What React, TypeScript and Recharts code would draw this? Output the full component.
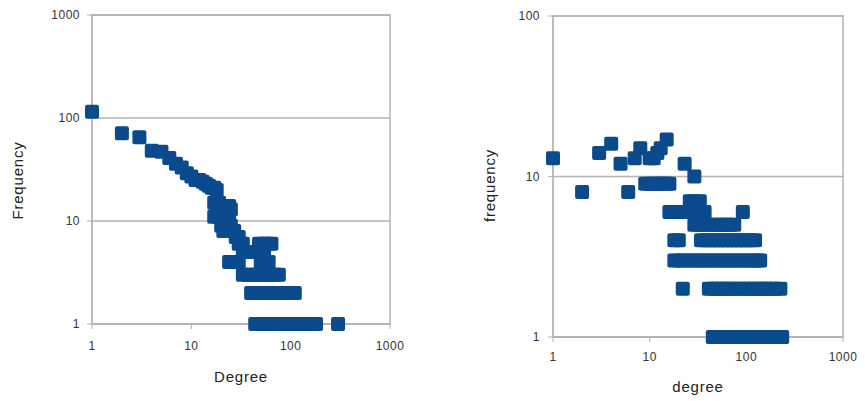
import { ScatterChart, Scatter, XAxis, YAxis, CartesianGrid, ReferenceArea } from 'recharts';

// degree distribution, left panel: [degree, frequency]
const leftPoints: [number, number][] = [
  [1, 115], [2, 71], [3, 65], [4, 48], [5, 47], [6, 41], [7, 36], [8, 33], [9, 29], [10, 27],
  [11, 25], [12, 25], [13, 24], [14, 23], [15, 22], [16, 21], [17, 21], [18, 20],
  [17, 15], [19, 15], [18, 13], [17, 11], [19, 11], [21, 12], [22, 14], [24, 14], [25, 13],
  [20, 9], [22, 9], [25, 9], [21, 8], [23, 8], [27, 8], [24, 10], [28, 7], [30, 7],
  [30, 6], [33, 6], [48, 6], [53, 6], [58, 6], [64, 6],
  [33, 5], [36, 5], [40, 5], [44, 5], [48, 5], [54, 5],
  [24, 4], [27, 4], [30, 4], [50, 4], [55, 4], [60, 4],
];
const leftThrees = [33, 37, 41, 46, 51, 57, 63, 70, 76];
const leftTwos = [40, 44, 48, 53, 58, 64, 70, 77, 85, 93, 102, 110];
const leftOnes = [44, 48, 52, 57, 62, 68, 74, 81, 88, 96, 105, 115, 125, 137, 150, 164, 180, 300];

// right panel: [degree, frequency]
const rightPoints: [number, number][] = [
  [1, 13], [2, 8], [3, 14], [4, 16], [5, 12], [6, 8], [7, 13], [8, 15],
  [10, 13], [11, 13], [12, 14], [13, 15], [15, 17], [23, 12], [29, 10],
  [9, 9], [10, 9], [11, 9], [12, 9], [13, 9], [14, 9], [15, 9], [16, 9],
  [26, 7], [29, 7], [33, 7],
  [16, 6], [18, 6], [20, 6], [22, 6], [25, 6], [28, 6], [32, 6], [37, 6], [92, 6],
  [29, 5], [32, 5], [36, 5], [40, 5], [45, 5], [50, 5], [56, 5], [62, 5], [68, 5], [75, 5],
  [18, 4], [20, 4], [22, 2],
];
const rightFours = [34, 38, 42, 47, 52, 58, 64, 71, 79, 88, 98, 110, 123];
const rightThrees = [18, 20, 22, 25, 28, 31, 35, 39, 44, 49, 55, 61, 68, 76, 85, 95, 106, 118, 130, 139];
const rightTwos = [41, 45, 50, 55, 61, 68, 76, 85, 95, 106, 118, 131, 146, 162, 180, 200, 225];
const rightOnes = [45, 50, 55, 61, 68, 76, 85, 95, 106, 118, 131, 146, 162, 180, 200, 218, 235];

const xTicks = [1, 10, 100, 1000];
const leftYTicks = [1, 10, 100, 1000];
const rightYTicks = [1, 10, 100];

const toRows = (pts: [number, number][]) => pts.map(([x, y]) => ({ x, y }));
const band = (degrees: number[], f: number) => degrees.map((x) => ({ x, y: f }));

const leftData = [
  ...toRows(leftPoints),
  ...band(leftThrees, 3),
  ...band(leftTwos, 2),
  ...band(leftOnes, 1),
];
const rightData = [
  ...toRows(rightPoints),
  ...band(rightFours, 4),
  ...band(rightThrees, 3),
  ...band(rightTwos, 2),
  ...band(rightOnes, 1),
];

const BLUE = '#0a4a8d';
const GRID = '#b3b3b3';
const FONT = '"Liberation Sans", Arial, sans-serif';
const tickStyle = { fontSize: 12, fill: '#333', fontFamily: FONT, letterSpacing: 0.5 };
const titleStyle = { fontSize: 15, fill: '#222', fontFamily: FONT, letterSpacing: 0.8 };

const Square = (props: any) => {
  const { cx, cy } = props;
  if (cx == null || cy == null) return null;
  return <rect x={cx - 7} y={cy - 7} width={14} height={14} rx={2} fill={BLUE} />;
};

export default function App() {
  return (
    <div style={{ position: 'absolute', left: 0, top: 0, width: 865, height: 401, background: '#fff' }}>
      <div style={{ position: 'absolute', left: 0, top: 0 }}>
        <ScatterChart width={430} height={401} margin={{ top: 15, right: 40, bottom: 15, left: 32 }}>
          <CartesianGrid vertical={false} stroke={GRID} strokeWidth={1.5} />
          <XAxis
            type="number"
            dataKey="x"
            scale="log"
            domain={[1, 1000]}
            ticks={xTicks}
            height={62}
            tickSize={5}
            tickMargin={12}
            stroke={GRID}
            tick={tickStyle}
            label={{ value: 'Degree', position: 'insideBottom', offset: 4, style: titleStyle }}
          />
          <YAxis
            type="number"
            dataKey="y"
            scale="log"
            domain={[1, 1000]}
            ticks={leftYTicks}
            width={60}
            tickSize={5}
            tickMargin={7}
            stroke={GRID}
            tick={tickStyle}
            label={{ value: 'Frequency', angle: -90, position: 'center', dx: -44, dy: 11, style: titleStyle }}
          />
          <ReferenceArea x1={1} x2={1000} y1={1} y2={1000} fill="none" stroke={GRID} strokeWidth={1.5} />
          <Scatter data={leftData} shape={Square} isAnimationActive={false} />
        </ScatterChart>
      </div>
      <div style={{ position: 'absolute', left: 430, top: 0 }}>
        <ScatterChart width={435} height={401} margin={{ top: 16, right: 22, bottom: 8, left: 53 }}>
          <CartesianGrid vertical={false} stroke={GRID} strokeWidth={1.5} />
          <XAxis
            type="number"
            dataKey="x"
            scale="log"
            domain={[1, 1000]}
            ticks={xTicks}
            height={56}
            tickSize={5}
            tickMargin={10}
            stroke={GRID}
            tick={tickStyle}
            label={{ value: 'degree', position: 'insideBottom', offset: 1, style: titleStyle }}
          />
          <YAxis
            type="number"
            dataKey="y"
            scale="log"
            domain={[1, 100]}
            ticks={rightYTicks}
            width={70}
            tickSize={5}
            tickMargin={8}
            stroke={GRID}
            tick={tickStyle}
            label={{ value: 'frequency', angle: -90, position: 'center', dx: -28, dy: 9, style: titleStyle }}
          />
          <ReferenceArea x1={1} x2={1000} y1={1} y2={100} fill="none" stroke={GRID} strokeWidth={1.5} />
          <Scatter data={rightData} shape={Square} isAnimationActive={false} />
        </ScatterChart>
      </div>
    </div>
  );
}
